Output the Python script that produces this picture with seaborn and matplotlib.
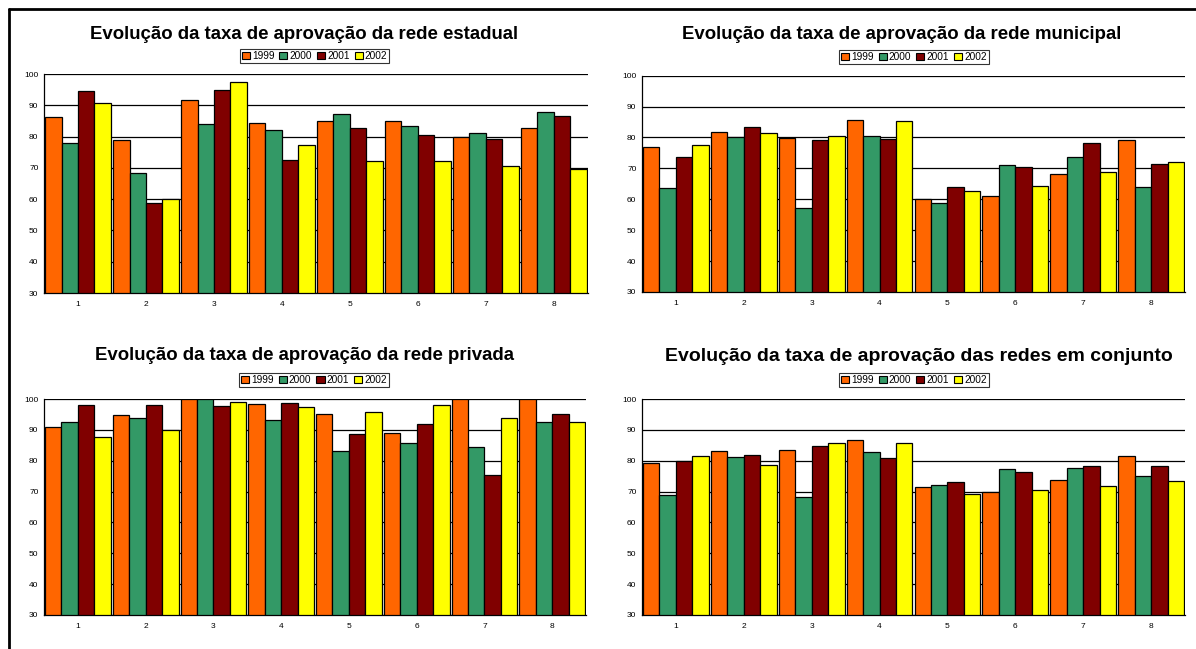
"""
Evolução da taxa de aprovação por rede de ensino (1999-2002).

Four grouped bar charts: estadual, municipal, privada and all together.
"""

import matplotlib
matplotlib.use("Agg")
import matplotlib.pyplot as plt
from matplotlib.lines import Line2D
from matplotlib.patches import Patch
from matplotlib.ticker import FixedLocator
import numpy as np
import pandas as pd
import seaborn as sns


# Data
years = ["1999", "2000", "2001", "2002"]
grupos = ["1", "2", "3", "4", "5", "6", "7", "8"]

estadual_1999 = [86.4, 78.9, 91.7, 84.3, 84.9, 84.9, 79.8, 82.9]
estadual_2000 = [77.8, 68.4, 83.9, 82.2, 87.3, 83.3, 81.3, 88.0]
estadual_2001 = [94.7, 58.9, 95.0, 72.6, 82.7, 80.6, 79.1, 86.6]
estadual_2002 = [90.6, 59.9, 97.6, 77.2, 72.3, 72.1, 70.6, 69.5]

municipal_1999 = [76.8, 81.9, 79.8, 85.5, 60.1, 61.2, 68.1, 79.2]
municipal_2000 = [63.8, 80.0, 57.3, 80.5, 58.8, 71.1, 73.8, 64.1]
municipal_2001 = [73.7, 83.5, 79.1, 79.4, 64.1, 70.5, 78.1, 71.5]
municipal_2002 = [77.7, 81.3, 80.5, 85.2, 62.8, 64.3, 68.8, 72.2]

privada_1999 = [90.9, 94.7, 100.0, 98.4, 95.3, 88.9, 100.0, 100.0]
privada_2000 = [92.6, 93.9, 100.0, 93.1, 83.2, 85.9, 84.4, 92.6]
privada_2001 = [98.0, 98.2, 97.6, 98.6, 88.5, 91.9, 75.5, 95.0]
privada_2002 = [87.8, 89.8, 98.9, 97.5, 95.7, 98.2, 93.9, 92.6]

conjunto_1999 = [79.2, 83.0, 83.6, 86.8, 71.6, 69.8, 73.7, 81.6]
conjunto_2000 = [69.0, 81.1, 68.2, 82.9, 72.0, 77.2, 77.5, 75.1]
conjunto_2001 = [79.9, 81.8, 84.8, 80.8, 73.0, 76.5, 78.2, 78.2]
conjunto_2002 = [81.5, 78.5, 85.9, 85.9, 69.3, 70.4, 71.9, 73.3]

titulos = [
    "Evolução da taxa de aprovação da rede estadual",
    "Evolução da taxa de aprovação da rede municipal",
    "Evolução da taxa de aprovação da rede privada",
    "Evolução da taxa de aprovação das redes em conjunto",
]

cores = {"1999": "#FF6600", "2000": "#339966", "2001": "#800000", "2002": "#FFFF00"}


def to_frame(series):
    """Long-format table for one panel."""
    rows = []
    for year, values in zip(years, series):
        for g, v in zip(grupos, values):
            rows.append({"grupo": g, "ano": year, "taxa": v})
    return pd.DataFrame(rows)


def draw_panel(ax, df):
    """Grouped bars, Excel style."""
    sns.barplot(
        data=df, x="grupo", y="taxa", hue="ano",
        order=grupos, hue_order=years, palette=cores,
        width=0.97, edgecolor="black", linewidth=0.9,
        saturation=1, legend=False, ax=ax,
    )
    ax.set_ylim(30, 100)
    ax.set_xlim(-0.5, len(grupos) - 0.5)
    ax.set_yticks(np.arange(30, 101, 10))
    ax.yaxis.grid(True, color="black", linewidth=0.9)
    ax.set_axisbelow(True)
    ax.set_xlabel("")
    ax.set_ylabel("")
    for side in ["top", "right"]:
        ax.spines[side].set_visible(False)
    for side in ["left", "bottom"]:
        ax.spines[side].set_color("black")
        ax.spines[side].set_linewidth(0.9)
    ax.tick_params(axis="y", labelsize=6, length=3, width=0.8, pad=1, colors="black")
    ax.tick_params(axis="x", which="major", labelsize=6, length=0, pad=6, colors="black")
    ax.xaxis.set_minor_locator(FixedLocator(np.arange(-0.5, len(grupos), 1.0)))
    ax.tick_params(axis="x", which="minor", length=3, width=0.8, colors="black")


def main():
    sns.set_theme(style="white")
    plt.rcParams["font.family"] = ["Liberation Sans", "DejaVu Sans"]
    plt.rcParams["text.color"] = "black"

    fig = plt.figure(figsize=(11.96, 6.49), dpi=100)
    fig.patch.set_facecolor("white")

    panels = [
        [estadual_1999, estadual_2000, estadual_2001, estadual_2002],
        [municipal_1999, municipal_2000, municipal_2001, municipal_2002],
        [privada_1999, privada_2000, privada_2001, privada_2002],
        [conjunto_1999, conjunto_2000, conjunto_2001, conjunto_2002],
    ]
    boxes = [
        [0.0368, 0.5485, 0.4548, 0.3374],
        [0.5368, 0.5501, 0.4540, 0.3333],
        [0.0368, 0.0524, 0.4532, 0.3328],
        [0.5368, 0.0524, 0.4540, 0.3328],
    ]
    title_pos = [(0.254, 0.9476), (0.754, 0.9476), (0.255, 0.453), (0.768, 0.450)]
    title_size = [13.4, 13.4, 13.4, 14.0]
    legend_pos = [(0.263, 0.9137), (0.764, 0.912), (0.2625, 0.4145), (0.764, 0.4145)]

    handles = [Patch(facecolor=cores[y], edgecolor="black", linewidth=0.8) for y in years]

    for i, series in enumerate(panels):
        ax = fig.add_axes(boxes[i])
        draw_panel(ax, to_frame(series))
        fig.text(title_pos[i][0], title_pos[i][1], titulos[i], ha="center", va="center",
                 fontsize=title_size[i], fontweight="bold", color="black")
        leg = fig.legend(
            handles, years, loc="center", bbox_to_anchor=legend_pos[i], ncol=4,
            fontsize=7.3, frameon=True, fancybox=False, borderpad=0.2,
            handlelength=0.8, handleheight=0.8, handletextpad=0.2,
            columnspacing=0.5, borderaxespad=0,
        )
        leg.get_frame().set_edgecolor("black")
        leg.get_frame().set_linewidth(0.8)
        for t in leg.get_texts():
            t.set_color("black")

    # outer frame (left and top edges only)
    fig.add_artist(Line2D([9 / 1196, 9 / 1196], [0, 1 - 9 / 649], color="black", linewidth=2))
    fig.add_artist(Line2D([9 / 1196, 1], [1 - 9 / 649, 1 - 9 / 649], color="black", linewidth=2))

    fig.savefig("out.png", dpi=100, facecolor="white")
    print("Saved chart to: out.png")


if __name__ == "__main__":
    main()
